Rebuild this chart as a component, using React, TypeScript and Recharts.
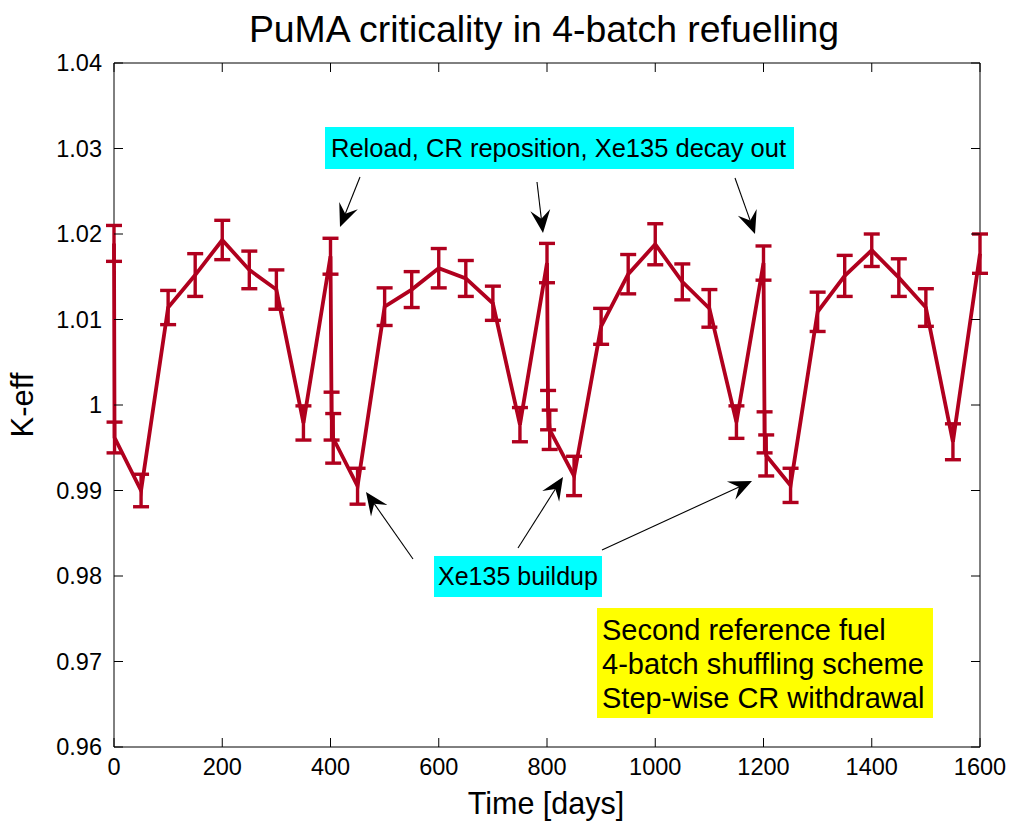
import React from 'react';
import { ComposedChart, Line, XAxis, YAxis, ErrorBar, ReferenceArea } from 'recharts';

// ---- data ----
const times = [0, 1, 50, 100, 150, 200, 250, 300, 350, 400, 402, 405, 450, 500, 550, 600, 650, 700, 750, 800, 802, 805, 850, 900, 950, 1000, 1050, 1100, 1150, 1200, 1202, 1205, 1250, 1300, 1350, 1400, 1450, 1500, 1550, 1600];
const keff = [1.0189, 0.9962, 0.9900, 1.0114, 1.0152, 1.0193, 1.0158, 1.0135, 0.9979, 1.0174, 0.9987, 0.9961, 0.9905, 1.0115, 1.0135, 1.0160, 1.0148, 1.0119, 0.9977, 1.0166, 0.9994, 0.9971, 0.9917, 1.0092, 1.0153, 1.0188, 1.0144, 1.0113, 0.9980, 1.0166, 0.9968, 0.9941, 0.9906, 1.0109, 1.0151, 1.0181, 1.0149, 1.0114, 0.9957, 1.0177];
const keffErr = [0.0021, 0.0018, 0.0019, 0.0020, 0.0025, 0.0023, 0.0022, 0.0023, 0.0020, 0.0021, 0.0028, 0.0029, 0.0021, 0.0022, 0.0021, 0.0023, 0.0021, 0.0020, 0.0020, 0.0023, 0.0023, 0.0023, 0.0023, 0.0021, 0.0023, 0.0024, 0.0021, 0.0022, 0.0019, 0.0020, 0.0024, 0.0024, 0.0020, 0.0023, 0.0024, 0.0019, 0.0022, 0.0022, 0.0021, 0.0023];
const xTicks = [0, 200, 400, 600, 800, 1000, 1200, 1400, 1600];
const yTicks = [0.96, 0.97, 0.98, 0.99, 1.0, 1.01, 1.02, 1.03, 1.04];

const titleText = 'PuMA criticality in 4-batch refuelling';
const xLabelText = 'Time [days]';
const yLabelText = 'K-eff';
const reloadNote = 'Reload, CR reposition, Xe135 decay out';
const xenonNote = 'Xe135 buildup';
const infoLines = ['Second reference fuel', '4-batch shuffling scheme', 'Step-wise CR withdrawal'];

const data = times.map((t, i) => ({ t, k: keff[i], e: keffErr[i] }));

// ---- layout ----
const W = 1014;
const H = 826;
const YW = 60;
const XH = 30;
const MARGIN = { top: 63, right: 34, bottom: 49, left: 54 };
const PL = MARGIN.left + YW;
const PR = W - MARGIN.right;
const PT = MARGIN.top;
const PB = H - MARGIN.bottom - XH;
const FONT = '"Liberation Sans", Arial, Helvetica, sans-serif';
const RED = '#b0001e';
const TICK_LEN = 9;

const fmt = (v: number) => String(Number(v.toFixed(2)));

const XTick = (props: any) => {
  const { x, payload } = props;
  return (
    <g>
      <line x1={x} x2={x} y1={PB} y2={PB - TICK_LEN} stroke="#000" strokeWidth={1} />
      <line x1={x} x2={x} y1={PT} y2={PT + TICK_LEN} stroke="#000" strokeWidth={1} />
      <text x={x} y={PB + 28} textAnchor="middle" fontSize={23.5} fontFamily={FONT} fill="#000">
        {fmt(payload.value)}
      </text>
    </g>
  );
};

const YTick = (props: any) => {
  const { y, payload } = props;
  return (
    <g>
      <line x1={PL} x2={PL + TICK_LEN} y1={y} y2={y} stroke="#000" strokeWidth={1} />
      <line x1={PR} x2={PR - TICK_LEN} y1={y} y2={y} stroke="#000" strokeWidth={1} />
      <text x={PL - 12} y={y + 8} textAnchor="end" fontSize={23.5} fontFamily={FONT} fill="#000">
        {fmt(payload.value)}
      </text>
    </g>
  );
};

type Arrow = { x1: number; y1: number; x2: number; y2: number };
const arrows: Arrow[] = [
  { x1: 360, y1: 177, x2: 340, y2: 227 },
  { x1: 537, y1: 182, x2: 543, y2: 233 },
  { x1: 735, y1: 178, x2: 755, y2: 234 },
  { x1: 413, y1: 559, x2: 366, y2: 492 },
  { x1: 518, y1: 548, x2: 563, y2: 477 },
  { x1: 602, y1: 550, x2: 752, y2: 481 },
];

const ArrowShape = ({ a }: { a: Arrow }) => {
  const dx = a.x2 - a.x1;
  const dy = a.y2 - a.y1;
  const len = Math.hypot(dx, dy);
  const ux = dx / len;
  const uy = dy / len;
  const nx = -uy;
  const ny = ux;
  const L = 23;
  const HW = 10;
  const bx = a.x2 - ux * L;
  const by = a.y2 - uy * L;
  const notchX = a.x2 - ux * L * 0.62;
  const notchY = a.y2 - uy * L * 0.62;
  const pts = [
    [a.x2, a.y2],
    [bx + nx * HW, by + ny * HW],
    [notchX, notchY],
    [bx - nx * HW, by - ny * HW],
  ]
    .map((p) => p.join(','))
    .join(' ');
  return (
    <g>
      <line x1={a.x1} y1={a.y1} x2={notchX} y2={notchY} stroke="#000" strokeWidth={1.1} />
      <polygon points={pts} fill="#000" />
    </g>
  );
};

export default function App() {
  return (
    <div style={{ position: 'relative', width: W, height: H, background: '#fff' }}>
      <style>{'body{margin:0;}'}</style>
      <ComposedChart width={W} height={H} data={data} margin={MARGIN}>
        <XAxis
          dataKey="t"
          type="number"
          domain={[0, 1600]}
          ticks={xTicks}
          height={XH}
          axisLine={false}
          tickLine={false}
          tick={(p: any) => <XTick {...p} />}
          interval={0}
        />
        <YAxis
          type="number"
          domain={[0.96, 1.04]}
          ticks={yTicks}
          width={YW}
          axisLine={false}
          tickLine={false}
          tick={(p: any) => <YTick {...p} />}
          interval={0}
        />
        <ReferenceArea x1={0} x2={1600} y1={0.96} y2={1.04} fill="none" stroke="#000" strokeWidth={1} fillOpacity={0} />
        <Line
          dataKey="k"
          type="linear"
          stroke={RED}
          strokeWidth={3.8}
          dot={false}
          activeDot={false}
          isAnimationActive={false}
        >
          <ErrorBar dataKey="e" width={8} stroke={RED} strokeWidth={3.4} direction="y" isAnimationActive={false} />
        </Line>
      </ComposedChart>
      <svg
        width={W}
        height={H}
        style={{ position: 'absolute', left: 0, top: 0, pointerEvents: 'none' }}
      >
        <text x={544} y={42} textAnchor="middle" fontSize={37.4} fontFamily={FONT} fill="#000">
          {titleText}
        </text>
        <text x={546} y={814} textAnchor="middle" fontSize={30.5} fontFamily={FONT} fill="#000">
          {xLabelText}
        </text>
        <text
          x={0}
          y={0}
          transform={`translate(33, 405) rotate(-90)`}
          textAnchor="middle"
          fontSize={31}
          fontFamily={FONT}
          fill="#000"
        >
          {yLabelText}
        </text>

        <rect x={325} y={127} width={469} height={42} fill="#00ffff" />
        <text x={331} y={157} fontSize={25.5} fontFamily={FONT} fill="#000">
          {reloadNote}
        </text>

        <rect x={434} y={556} width={168} height={41} fill="#00ffff" />
        <text x={438} y={585} fontSize={25} fontFamily={FONT} fill="#000">
          {xenonNote}
        </text>

        <rect x={597} y={608} width={336} height={110} fill="#ffff00" />
        {infoLines.map((l, i) => (
          <text key={i} x={602} y={640 + i * 34} fontSize={29} fontFamily={FONT} fill="#000">
            {l}
          </text>
        ))}

        {arrows.map((a, i) => (
          <ArrowShape key={i} a={a} />
        ))}
      </svg>
    </div>
  );
}
